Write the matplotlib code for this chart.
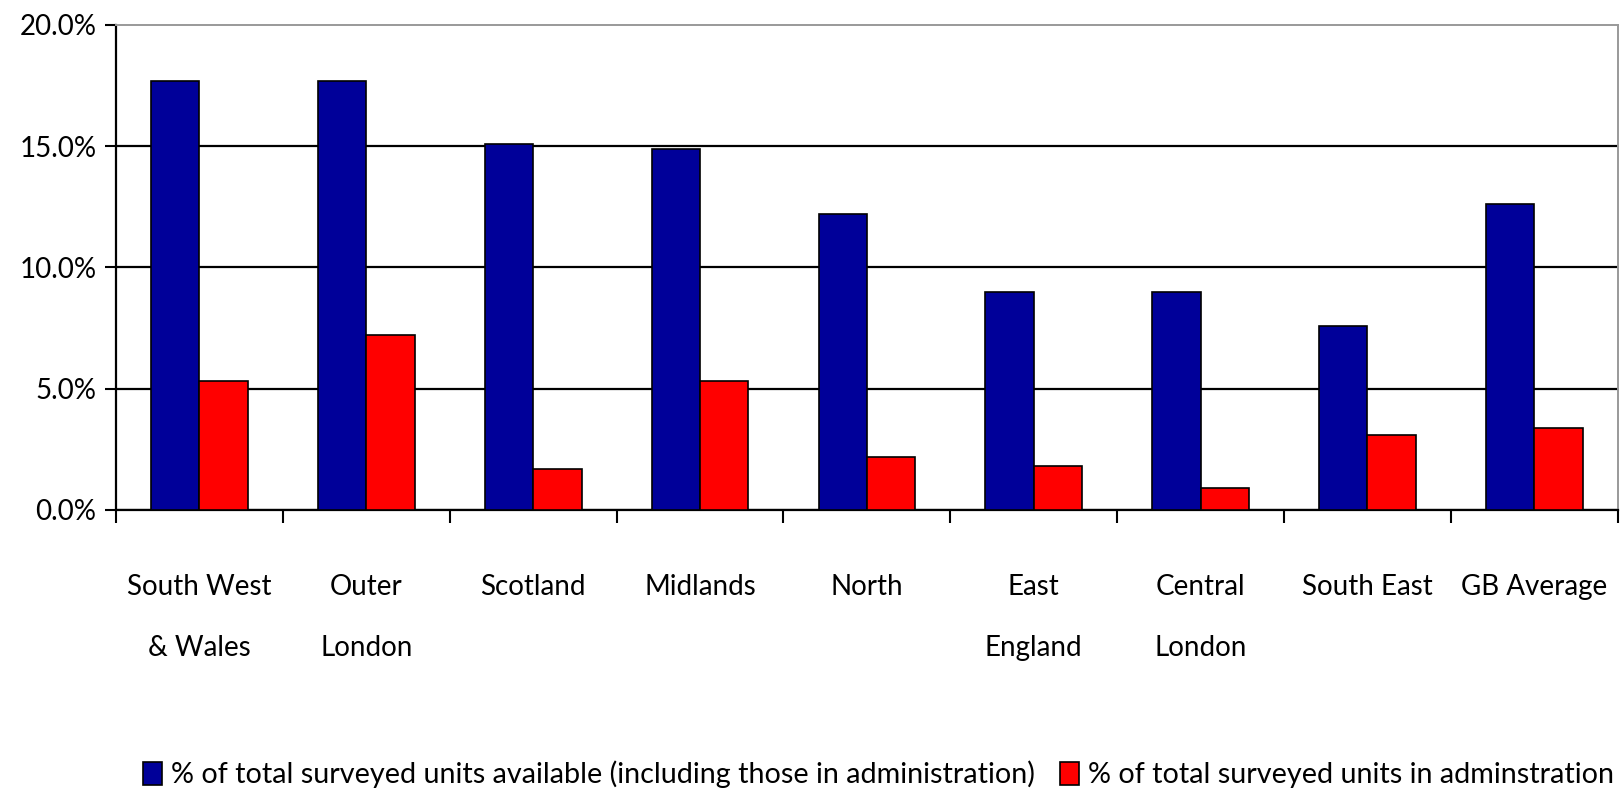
import matplotlib.pyplot as plt
import numpy as np
from matplotlib.ticker import FuncFormatter

plt.rcParams["font.family"] = ["Lato", "DejaVu Sans"]

regions = ["South West\n& Wales", "Outer\nLondon", "Scotland", "Midlands", "North",
           "East\nEngland", "Central\nLondon", "South East", "GB Average"]
available = [17.7, 17.7, 15.1, 14.9, 12.2, 9.0, 9.0, 7.6, 12.6]
in_admin = [5.3, 7.2, 1.7, 5.3, 2.2, 1.8, 0.9, 3.1, 3.4]
series_labels = ["% of total surveyed units available (including those in administration)",
                 "% of total surveyed units in adminstration"]

x = np.arange(len(regions))
width = 0.29

fig = plt.figure(figsize=(16.21, 7.95), dpi=100)
ax = fig.add_axes([0.0716, 0.3585, 0.9264, 0.6101])

ax.bar(x - width / 2, available, width, color="#000099", edgecolor="black",
       linewidth=1.2, label=series_labels[0], zorder=3)
ax.bar(x + width / 2, in_admin, width, color="#FF0000", edgecolor="black",
       linewidth=1.2, label=series_labels[1], zorder=3)

ax.set_xlim(-0.5, len(regions) - 0.5)
ax.set_ylim(0, 20)
ax.set_yticks([0, 5, 10, 15, 20])
ax.yaxis.set_major_formatter(FuncFormatter(lambda v, p: f"{v:.1f}%"))
ax.tick_params(axis="y", length=8, width=1.5, labelsize=20, pad=6)

ax.set_xticks(x)
ax.set_xticklabels(regions, linespacing=2.65)
ax.set_xticks(np.arange(len(regions) + 1) - 0.5, minor=True)
ax.tick_params(axis="x", which="major", length=0, labelsize=20, pad=46)
ax.tick_params(axis="x", which="minor", length=9, width=1.5)
for lbl in ax.get_xticklabels():
    lbl.set_verticalalignment("top")

ax.yaxis.grid(True, color="black", linewidth=1.6, zorder=1)
ax.set_axisbelow(True)
ax.get_ygridlines()[-1].set_visible(False)

ax.spines["left"].set_linewidth(1.6)
ax.spines["bottom"].set_linewidth(1.6)
ax.spines["top"].set_color("#999999")
ax.spines["right"].set_color("#999999")
ax.spines["top"].set_linewidth(1.4)
ax.spines["right"].set_linewidth(1.4)

fig.legend(loc="center", bbox_to_anchor=(0.542, 0.026), ncol=2, frameon=False,
           fontsize=20.7, handlelength=0.65, handleheight=0.85, handletextpad=0.3,
           columnspacing=0.9)

fig.savefig("out.png", dpi=100)
